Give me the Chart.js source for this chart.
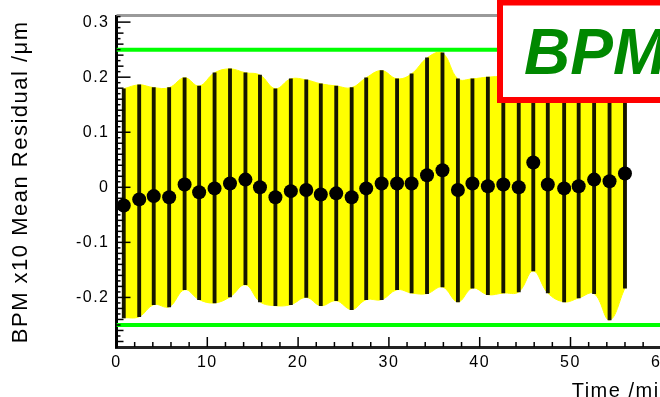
<!DOCTYPE html>
<html>
<head>
<meta charset="utf-8">
<script src="https://cdn.jsdelivr.net/npm/chart.js@4"></script>
<style>
  html, body { margin: 0; padding: 0; background: #fff; overflow: hidden; }
  #wrap { width: 660px; height: 397px; overflow: hidden; }
</style>
</head>
<body>
<div id="wrap"><canvas id="chart" width="700" height="406"></canvas></div>
<script>
// Time of each run (min)
const times = [0.8, 2.5, 4.1, 5.8, 7.5, 9.1, 10.8, 12.5, 14.2, 15.8, 17.5, 19.2, 20.9, 22.5, 24.2, 25.9, 27.5,
  29.2, 30.9, 32.5, 34.2, 35.9, 37.6, 39.2, 40.9, 42.6, 44.3, 45.9, 47.5, 49.3, 50.9, 52.6, 54.3, 56.0];
// mean residual and spread (error bar ends), µm
const means = [-0.033, -0.022, -0.016, -0.018, 0.005, -0.009, -0.002, 0.007, 0.014, 0.000, -0.018, -0.007, -0.005,
  -0.013, -0.011, -0.018, -0.002, 0.007, 0.007, 0.007, 0.022, 0.031, -0.005, 0.007, 0.002, 0.005, 0.000, 0.045,
  0.005, -0.002, 0.002, 0.014, 0.011, 0.025];
const upper = [0.179, 0.186, 0.181, 0.181, 0.199, 0.184, 0.208, 0.215, 0.208, 0.204, 0.179, 0.197, 0.195, 0.188,
  0.184, 0.181, 0.199, 0.212, 0.197, 0.206, 0.235, 0.244, 0.197, 0.197, 0.200, 0.200, 0.190, 0.240, 0.200, 0.190,
  0.200, 0.210, 0.220, 0.210];
const lower = [-0.237, -0.235, -0.213, -0.217, -0.186, -0.204, -0.210, -0.199, -0.177, -0.208, -0.215, -0.213,
  -0.200, -0.215, -0.206, -0.222, -0.204, -0.204, -0.186, -0.192, -0.193, -0.181, -0.208, -0.183, -0.195, -0.192,
  -0.190, -0.152, -0.192, -0.208, -0.201, -0.193, -0.241, -0.183];
// tolerance lines
const limits = [0.25, -0.25];
const xRange = [0, 61.2];
const yRange = [-0.29, 0.31];
const xTicks = [0, 10, 20, 30, 40, 50, 60];
const yTicks = [-0.2, -0.1, 0, 0.1, 0.2, 0.3];

const FONT = 'Liberation Sans';

// inward ticks like the ROOT frame
const frameTicks = {
  id: 'frameTicks',
  beforeDraw(chart) {
    chart.ctx.letterSpacing = '1.5px';
  },
  afterDraw(chart) {
    const { ctx, chartArea: a, scales: { x, y } } = chart;
    ctx.save();
    ctx.letterSpacing = '0px';
    // top frame edge
    ctx.strokeStyle = '#9a9a9a';
    ctx.lineWidth = 3;
    ctx.beginPath();
    ctx.moveTo(a.left, a.top - 1);
    ctx.lineTo(a.right, a.top - 1);
    ctx.stroke();

    ctx.strokeStyle = '#000';
    ctx.lineWidth = 1.5;
    for (let v = Math.ceil(yRange[0] * 100); v <= Math.floor(yRange[1] * 100); v++) {
      const py = y.getPixelForValue(v / 100);
      const len = v % 10 === 0 ? 14 : (v % 2 === 0 ? 7 : 4);
      ctx.beginPath();
      ctx.moveTo(a.left, py);
      ctx.lineTo(a.left + len, py);
      ctx.stroke();
    }
    for (let t = 0; t <= xRange[1]; t += 2) {
      const px = x.getPixelForValue(t);
      const len = t % 10 === 0 ? 10 : 5;
      ctx.beginPath();
      ctx.moveTo(px, a.bottom);
      ctx.lineTo(px, a.bottom - len);
      ctx.stroke();
    }

    // "BPM" label box
    ctx.fillStyle = '#fff';
    ctx.fillRect(500, 2.5, 260, 97.5);
    ctx.strokeStyle = '#ff0000';
    ctx.lineWidth = 6;
    ctx.strokeRect(500, 2.5, 260, 97.5);
    ctx.fillStyle = '#008800';
    ctx.font = 'italic bold 64px ' + FONT;
    ctx.textBaseline = 'alphabetic';
    ctx.textAlign = 'left';
    ctx.fillText('BPM', 524, 74);
    ctx.restore();
  }
};

const pts = (ys) => times.map((t, i) => ({ x: t, y: ys[i] }));

new Chart(document.getElementById('chart'), {
  data: {
    datasets: [
      {
        type: 'line',
        data: pts(upper),
        borderColor: '#ffff00',
        borderWidth: 1,
        pointRadius: 0,
        tension: 0.4,
        fill: false,
        order: 4
      },
      {
        type: 'line',
        data: pts(lower),
        borderColor: '#ffff00',
        borderWidth: 1,
        backgroundColor: '#ffff00',
        pointRadius: 0,
        tension: 0.4,
        fill: '-1',
        order: 3
      },
      ...limits.map(l => ({
        type: 'line',
        data: [{ x: xRange[0], y: l }, { x: xRange[1], y: l }],
        borderColor: '#00ff00',
        borderWidth: 4,
        pointRadius: 0,
        fill: false,
        order: 2
      })),
      {
        type: 'bar',
        data: times.map((t, i) => ({ x: t, y: [lower[i], upper[i]] })),
        backgroundColor: '#161600',
        borderWidth: 0,
        barThickness: 3.2,
        grouped: false,
        order: 1
      },
      {
        type: 'scatter',
        data: pts(means),
        backgroundColor: '#000',
        borderWidth: 0,
        pointRadius: 7,
        order: 0
      }
    ]
  },
  options: {
    responsive: false,
    animation: false,
    devicePixelRatio: 1,
    layout: { padding: { top: 15, right: 27.8, left: 0, bottom: 0 } },
    plugins: { legend: { display: false }, tooltip: { enabled: false } },
    scales: {
      x: {
        type: 'linear',
        offset: false,
        min: xRange[0], max: xRange[1],
        afterFit: s => { s.height = 59; },
        afterBuildTicks: s => { s.ticks = xTicks.map(v => ({ value: v })); },
        grid: { display: false, drawTicks: false, offset: false },
        border: { color: '#222', width: 3 },
        ticks: { color: '#000', padding: 6, font: { family: FONT, size: 16 }, callback: v => String(v) },
        title: {
          display: true, text: 'Time /min', align: 'end', color: '#000',
          font: { family: FONT, size: 20 }, padding: { top: 0, bottom: 3 }
        }
      },
      y: {
        min: yRange[0], max: yRange[1],
        afterFit: s => { s.width = 116.5; },
        afterBuildTicks: s => { s.ticks = yTicks.map(v => ({ value: v })); },
        grid: { display: false, drawTicks: false },
        border: { color: '#000', width: 3 },
        ticks: {
          color: '#000', padding: 7, font: { family: FONT, size: 16 },
          callback: v => (Math.abs(v) < 1e-9 ? '0' : v.toFixed(1))
        },
        title: {
          display: true, text: 'BPM x10 Mean Residual /μm', color: '#000',
          font: { family: FONT, size: 22 }, padding: { top: 8, bottom: 0 }
        }
      }
    }
  },
  plugins: [frameTicks]
});
</script>
</body>
</html>
